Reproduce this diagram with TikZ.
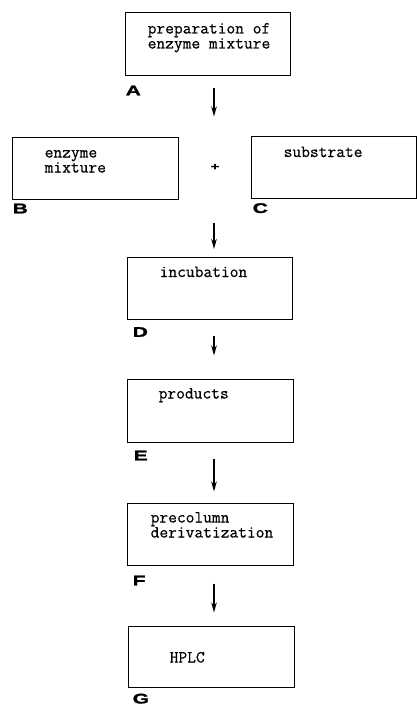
\documentclass[tikz,border=0pt]{standalone}
\usepackage{fontspec}
\setmonofont{Latin Modern Mono}[FakeBold=0.6]
\newfontfamily\tagfont{Liberation Sans Bold}[FakeStretch=1.5,FakeBold=1.5]
\usetikzlibrary{arrows.meta,calc,positioning}
\tikzset{>={Stealth[length=10pt,width=5.5pt]}}
\tikzset{
  stage/.style={draw, line width=1pt, minimum width=166pt, minimum height=62pt, inner sep=0pt},
  steptext/.style={anchor=base west, inner sep=0pt, align=left, font=\ttfamily\fontsize{17}{15}\selectfont},
  tag/.style={anchor=north west, inner sep=0pt, font=\tagfont\fontsize{14}{14}\selectfont},
  flow/.style={->, line width=1.8pt}
}

\begin{document}
\begin{tikzpicture}[x=1pt,y=-1pt]
\useasboundingbox (0,0) rectangle (416,706);
% boxes
\node[stage, minimum width=165pt, minimum height=63pt] (A) at (207.5,44.5) {};
\node[stage] (B) at (95,168) {};
\node[stage, minimum width=165pt] (C) at (333.5,167.5) {};
\node[stage, minimum width=165pt] (D) at (209.5,288.5) {};
\node[stage, minimum height=63pt] (E) at (210,410.5) {};
\node[stage] (F) at (210,534) {};
\node[stage, minimum height=61pt] (G) at (211,656.5) {};
% texts in the boxes (base = last line)
\node[steptext] (Atext) at ([shift={(23,36)}]A.north west) {preparation of\\enzyme mixture};
\node[steptext] (Btext) at ([shift={(33,36)}]B.north west) {enzyme\\mixture};
\node[steptext] (Ctext) at ([shift={(33,21)}]C.north west) {substrate};
\node[steptext] (Dtext) at ([shift={(33,20)}]D.north west) {incubation};
\node[steptext] (Etext) at ([shift={(32,20)}]E.north west) {products};
\node[steptext] (Ftext) at ([shift={(24,35)}]F.north west) {precolumn\\derivatization};
\node[steptext] (Gtext) at ([shift={(42,37)}]G.north west) {HPLC};
% letters
\node[tag] (Atag) at ([shift={(1,9)}]A.south west) {A};
\node[tag] (Btag) at ([shift={(1,4)}]B.south west) {B};
\node[tag] (Ctag) at ([shift={(2,4)}]C.south west) {C};
\node[tag] (Dtag) at ([shift={(6,7)}]D.south west) {D};
\node[tag] (Etag) at ([shift={(7,8)}]E.south west) {E};
\node[tag] (Ftag) at ([shift={(6,10)}]F.south west) {F};
\node[tag] (Gtag) at ([shift={(5,6)}]G.south west) {G};
\node[font=\tagfont\fontsize{10}{10}\selectfont, inner sep=0pt] (plus) at (215,167) {+};
% arrows
\coordinate (spine) at (214,0);
\draw[flow, shorten <=12pt, shorten >=20pt] (spine |- A.south) -- (spine |- B.north);
\draw[flow, shorten <=23pt, shorten >=8pt] (spine |- B.south) -- (spine |- D.north);
\draw[flow, shorten <=16pt, shorten >=23pt] (spine |- D.south) -- (spine |- E.north);
\draw[flow, shorten <=16pt, shorten >=11pt] (spine |- E.south) -- (spine |- F.north);
\draw[flow, shorten <=18pt, shorten >=13pt] (spine |- F.south) -- (spine |- G.north);
\end{tikzpicture}
\end{document}
